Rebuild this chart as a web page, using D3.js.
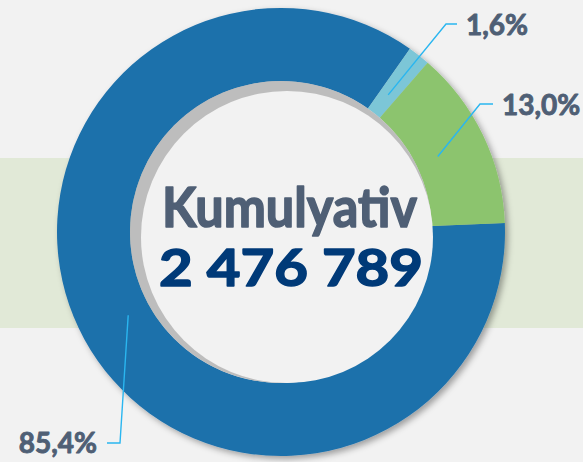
<!DOCTYPE html>
<html><head><meta charset="utf-8">
<script src="https://cdn.jsdelivr.net/npm/d3@7"></script>
<style>html,body{margin:0;padding:0;background:#f2f2f2;overflow:hidden}</style>
</head><body>
<svg id="c" width="583" height="462"></svg>
<script>
// ---- data ----
const categories = ["A", "B", "C"];
const values = [85.4, 1.6, 13.0];
const labels = ["85,4%", "1,6%", "13,0%"];
const centerTitle = "Kumulyativ";
const centerValue = "2 476 789";

// ---- layout ----
const W = 583, H = 462;
const cx = 281, cy = 232, R = 224, r = 151;
const colors = ["#1f71ab", "#7bc6d7", "#8cc46e"];
const startAngleDeg = 87.7;
const labelLayout = [
  {elbow:[120,443], end:[107,443], tx:97, ty:453, anchor:"end"},
  {elbow:[446,24], end:[457,24], tx:466, ty:35, anchor:"start"},
  {elbow:[480,104], end:[493,104], tx:502, ty:115, anchor:"start"}
];

const svg = d3.select("#c");
const defs = svg.append("defs");
const f = defs.append("filter").attr("id","sh").attr("x","-20%").attr("y","-20%").attr("width","140%").attr("height","140%");
f.append("feDropShadow").attr("dx",3).attr("dy",3).attr("stdDeviation",3).attr("flood-color","#000").attr("flood-opacity",0.35);

svg.append("rect").attr("width",W).attr("height",H).attr("fill","#f2f2f2");
svg.append("rect").attr("x",0).attr("y",158).attr("width",W).attr("height",170).attr("fill","#e1e9d7");

const a0 = startAngleDeg*Math.PI/180;
const pie = d3.pie().sort(null).value(d=>d).startAngle(a0).endAngle(a0+2*Math.PI);
const arcs = pie(values);
const arc = d3.arc().innerRadius(r).outerRadius(R);

const g = svg.append("g").attr("transform",`translate(${cx},${cy})`);
const donut = g.append("g").attr("filter","url(#sh)");
donut.selectAll("path").data(arcs).join("path")
  .attr("d",arc).attr("fill",(d,i)=>colors[i]);

// inner hole shadow
g.append("circle").attr("r",r).attr("fill","#bdbdbd");
g.append("circle").attr("cx",6).attr("cy",5).attr("r",r-5).attr("fill","#f2f2f2");

// leader lines
const leaderR = 174;
arcs.forEach((d,i)=>{
  const m = (d.startAngle+d.endAngle)/2;
  const sx = cx + leaderR*Math.sin(m), sy = cy - leaderR*Math.cos(m);
  const L = labelLayout[i];
  svg.append("polyline")
    .attr("points",[[sx,sy],L.elbow,L.end].map(p=>p.join(",")).join(" "))
    .attr("fill","none").attr("stroke","#2ab6f0").attr("stroke-width",1.4);
  svg.append("text").attr("x",L.tx).attr("y",L.ty).attr("text-anchor",L.anchor)
    .attr("font-family","Lato, 'Open Sans', sans-serif").attr("font-weight","bold")
    .attr("font-size",28).attr("fill","#4f5f75")
    .attr("stroke","#4f5f75").attr("stroke-width",0.9).attr("stroke-linejoin","round")
    .text(labels[i]);
});

// center text
svg.append("text").attr("x",162).attr("y",227)
  .attr("font-family","Lato, 'Open Sans', sans-serif").attr("font-weight","bold")
  .attr("font-size",56).attr("fill","#4f5f75")
  .attr("stroke","#4f5f75").attr("stroke-width",1.6).attr("stroke-linejoin","round")
  .attr("textLength",255).attr("lengthAdjust","spacingAndGlyphs").text(centerTitle);
svg.append("text").attr("x",159).attr("y",286)
  .attr("font-family","Lato, 'Open Sans', sans-serif").attr("font-weight","bold")
  .attr("font-size",52).attr("fill","#003a78")
  .attr("stroke","#003a78").attr("stroke-width",1.6).attr("stroke-linejoin","round")
  .attr("textLength",264).attr("lengthAdjust","spacingAndGlyphs").text(centerValue);
</script>
</body></html>
